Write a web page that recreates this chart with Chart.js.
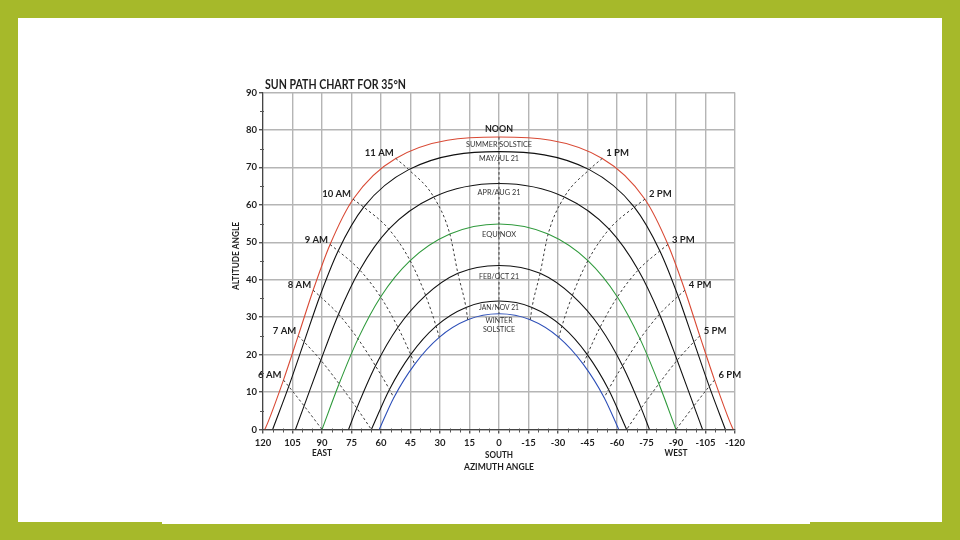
<!DOCTYPE html>
<html><head><meta charset="utf-8">
<script src="https://cdn.jsdelivr.net/npm/chart.js"></script>
<style>
html,body{margin:0;padding:0;width:960px;height:540px;overflow:hidden;background:#a6b92a;}
#panel{position:absolute;left:18px;top:18px;width:924px;height:504px;background:#fff;}
#strip{position:absolute;left:162px;top:520px;width:648px;height:4px;background:#fff;}
#c{position:absolute;left:0;top:0;}
</style></head><body>
<div id="panel"></div><div id="strip"></div>
<canvas id="c" width="960" height="540"></canvas>
<script>
// ---------- DATA ----------
const hourNames = ['5 AM','6 AM','7 AM','8 AM','9 AM','10 AM','11 AM','NOON','1 PM','2 PM','3 PM','4 PM','5 PM','6 PM','7 PM'];
const dateNames = ['SUMMER SOLSTICE','MAY/JUL 21','APR/AUG 21','EQUINOX','FEB/OCT 21','JAN/NOV 21','WINTER SOLSTICE'];

// azimuth (deg, + = east) and altitude (deg) at each solar hour, null = below horizon
const summerAz  = [117.5, 109.6, 102.1, 94.5, 85.9, 74.2, 52.5, 0, -52.5, -74.2, -85.9, -94.5, -102.1, -109.6, -117.5];
const summerAlt = [1.9, 13.2, 25.0, 37.2, 49.4, 61.5, 72.4, 78.1, 72.4, 61.5, 49.4, 37.2, 25.0, 13.2, 1.9];
const mayJulAz  = [115.1, 106.9, 99.1, 91.1, 81.8, 68.8, 45.9, 0, -45.9, -68.8, -81.8, -91.1, -99.1, -106.9, -115.1];
const mayJulAlt = [0, 11.5, 23.4, 35.6, 47.7, 59.4, 69.4, 74.2, 69.4, 59.4, 47.7, 35.6, 23.4, 11.5, 0];
const aprAugAz  = [null, 99.1, 90.6, 81.6, 70.8, 56.0, 33.2, 0, -33.2, -56.0, -70.8, -81.6, -90.6, -99.1, null];
const aprAugAlt = [null, 6.3, 18.5, 30.8, 42.6, 53.5, 62.1, 65.7, 62.1, 53.5, 42.6, 30.8, 18.5, 6.3, null];
const equinoxAz  = [null, 90.0, 81.3, 71.7, 60.2, 45.2, 25.0, 0, -25.0, -45.2, -60.2, -71.7, -81.3, -90.0, null];
const equinoxAlt = [null, 0, 12.2, 24.2, 35.4, 45.1, 52.2, 54.9, 52.2, 45.1, 35.4, 24.2, 12.2, 0, null];
const febOctAz  = [null, null, 72.3, 62.8, 51.4, 37.3, 20.9, 0, -20.9, -37.3, -51.4, -62.8, -72.3, null, null];
const febOctAlt = [null, null, 5.7, 17.0, 27.3, 35.8, 41.7, 43.8, 41.7, 35.8, 27.3, 17.0, 5.7, null, null];
const janNovAz  = [null, null, 64.9, 55.7, 44.9, 32.0, 16.8, 0, -16.8, -32.0, -44.9, -55.7, -64.9, null, null];
const janNovAlt = [null, null, 0, 10.7, 20.0, 27.6, 32.6, 34.3, 32.6, 27.6, 20.0, 10.7, 0, null, null];
const winterAz  = [null, null, null, 53.5, 42.9, 30.4, 15.9, 0, -15.9, -30.4, -42.9, -53.5, null, null, null];
const winterAlt = [null, null, null, 8.5, 17.4, 24.6, 29.3, 30.9, 29.3, 24.6, 17.4, 8.5, null, null, null];

const sunriseAz = [119.1, 115.1, 103.5, 90.0, 76.5, 64.9, 60.9];
const sunsetAz  = [-119.1, -115.1, -103.5, -90.0, -76.5, -64.9, -60.9];

const xTicks = [120, 105, 90, 75, 60, 45, 30, 15, 0, -15, -30, -45, -60, -75, -90, -105, -120];
const yTicks = [0, 10, 20, 30, 40, 50, 60, 70, 80, 90];
const directionLabels = [[90, 'EAST'], [0, 'SOUTH'], [-90, 'WEST']];

// ---------- STYLE ----------
const dateColors = ['#d94a35', '#111111', '#111111', '#2f9a3c', '#111111', '#111111', '#2d4fb8'];
const FONT = 'Lato, "Open Sans", sans-serif';

const azs = [summerAz, mayJulAz, aprAugAz, equinoxAz, febOctAz, janNovAz, winterAz];
const alts = [summerAlt, mayJulAlt, aprAugAlt, equinoxAlt, febOctAlt, janNovAlt, winterAlt];

const datasets = [];
// hour lines (dotted)
for (let k = 1; k <= 13; k++) {
  const pts = [];
  for (let d = 0; d < azs.length; d++) {
    if (alts[d][k] !== null) pts.push({x: azs[d][k], y: alts[d][k]});
  }
  datasets.push({label: hourNames[k], data: pts, showLine: true, borderColor: '#3a3a3a',
    borderWidth: 1, borderDash: [2.5, 2.5], pointRadius: 0, cubicInterpolationMode: 'monotone', fill: false});
}
// day paths (solid)
for (let d = 0; d < azs.length; d++) {
  const pts = [{x: sunriseAz[d], y: 0}];
  for (let k = 0; k < hourNames.length; k++) {
    if (alts[d][k] !== null && alts[d][k] > 0) pts.push({x: azs[d][k], y: alts[d][k]});
  }
  pts.push({x: sunsetAz[d], y: 0});
  datasets.push({label: dateNames[d], data: pts, showLine: true, borderColor: dateColors[d],
    borderWidth: 1.1, pointRadius: 0, cubicInterpolationMode: 'monotone', fill: false});
}

function drawText(ctx, s, X, Y, font, color, align, w) {
  ctx.save();
  ctx.font = font; ctx.fillStyle = color; ctx.textBaseline = 'middle'; ctx.textAlign = align;
  const m = ctx.measureText(s).width;
  const sx = w ? w / m : 1;
  ctx.translate(X, Y); ctx.scale(sx, 1);
  ctx.fillText(s, 0, 0);
  ctx.restore();
}

const annot = {
  id: 'annot',
  afterDraw(chart) {
    const ctx = chart.ctx, a = chart.chartArea, x = chart.scales.x, y = chart.scales.y;
    const px = v => x.getPixelForValue(v), py = v => y.getPixelForValue(v);
    // minor ticks
    ctx.save(); ctx.strokeStyle = '#555'; ctx.lineWidth = 1;
    for (let v = -115; v < 120; v += 5) {
      if (v % 15 === 0) continue;
      const X = Math.round(px(v)) + 0.5;
      ctx.beginPath(); ctx.moveTo(X, a.bottom - 1); ctx.lineTo(X, a.bottom + 3); ctx.stroke();
    }
    for (let v = 5; v < 90; v += 10) {
      const Y = Math.round(py(v)) + 0.5;
      ctx.beginPath(); ctx.moveTo(a.left - 3, Y); ctx.lineTo(a.left + 1, Y); ctx.stroke();
    }
    ctx.restore();
    // title
    drawText(ctx, 'SUN PATH CHART FOR 35°N', 265, 85, 'bold 12.5px ' + FONT, '#1e1e1e', 'left', 141);
    // y title
    ctx.save(); ctx.translate(236, 256); ctx.rotate(-Math.PI / 2);
    drawText(ctx, 'ALTITUDE ANGLE', 0, 0, 'bold 9.5px ' + FONT, '#1e1e1e', 'center', 68);
    ctx.restore();
    // direction labels
    const dirW = {EAST: 20, SOUTH: 28, WEST: 23};
    directionLabels.forEach(([v, s]) => {
      drawText(ctx, s, px(v), v === 0 ? 454.5 : 453, 'bold 9.5px ' + FONT, '#1e1e1e', 'center', dirW[s]);
    });
    drawText(ctx, 'AZIMUTH ANGLE', px(0), 467, 'bold 9.5px ' + FONT, '#1e1e1e', 'center', 70);
    // hour labels
    for (let k = 1; k <= 13; k++) {
      if (k === 7) continue;
      const X = px(summerAz[k]), Y = py(summerAlt[k]);
      if (k < 7) drawText(ctx, hourNames[k], X - 2, Y - 5, 'bold 9.5px ' + FONT, '#1e1e1e', 'right');
      else drawText(ctx, hourNames[k], X + 4, Y - 5, 'bold 9.5px ' + FONT, '#1e1e1e', 'left');
    }
    // noon label
    drawText(ctx, 'NOON', px(0), py(summerAlt[7]) - 8.5, 'bold 9.5px ' + FONT, '#1e1e1e', 'center', 28);
    // date labels
    const offs = [7, 6.7, 9.4, 10, 11, 6, 6.7];
    const widths = [66, 40, 43, 34, 40, 40, 27];
    for (let d = 0; d < 7; d++) {
      const Y = py(alts[d][7]) + offs[d];
      if (d === 6) {
        drawText(ctx, 'WINTER', px(0), Y, '8px ' + FONT, '#333', 'center', 27);
        drawText(ctx, 'SOLSTICE', px(0), Y + 9.3, '8px ' + FONT, '#333', 'center', 32);
      } else {
        drawText(ctx, dateNames[d], px(0), Y, '8px ' + FONT, '#333', 'center', widths[d]);
      }
    }
  }
};

new Chart(document.getElementById('c'), {
  type: 'scatter',
  data: {datasets},
  options: {
    responsive: false, animation: false, devicePixelRatio: 1,
    layout: {padding: {left: 223, right: 225, top: 92.5, bottom: 70.5}},
    plugins: {legend: {display: false}, tooltip: {enabled: false}},
    scales: {
      x: {
        type: 'linear', reverse: true, min: -120, max: 120,
        afterBuildTicks: s => { s.ticks = xTicks.map(v => ({value: v})); },
        afterFit: s => { s.height = 40; },
        ticks: {color: '#1e1e1e', font: {family: FONT, weight: 'bold', size: 9.5}, padding: 4, maxRotation: 0, autoSkip: false,
          callback: v => String(v)},
        grid: {color: '#b5b5b5', lineWidth: 1.4, tickLength: 4, tickColor: '#555', drawTicks: true},
        border: {display: true, color: '#444', width: 1.2}
      },
      y: {
        type: 'linear', min: 0, max: 90,
        afterBuildTicks: s => { s.ticks = yTicks.map(v => ({value: v})); },
        afterFit: s => { s.width = 40; },
        ticks: {color: '#1e1e1e', font: {family: FONT, weight: 'bold', size: 9.5}, padding: 2, autoSkip: false},
        grid: {color: '#b5b5b5', lineWidth: 1.4, tickLength: 4, tickColor: '#555'},
        border: {display: true, color: '#444', width: 1.2}
      }
    }
  },
  plugins: [annot]
});
</script>
</body></html>
